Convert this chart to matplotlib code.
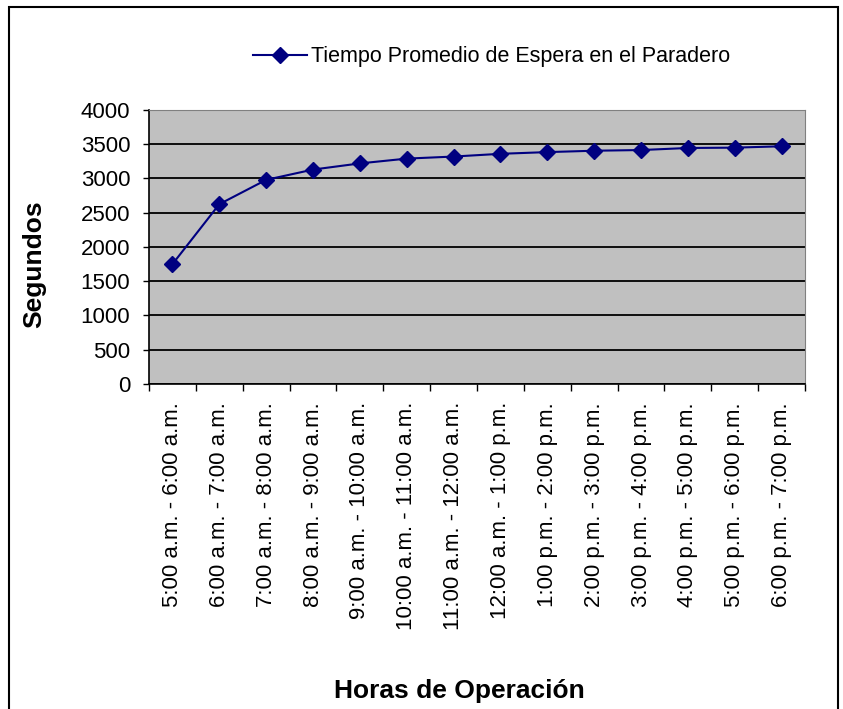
import matplotlib.pyplot as plt
from matplotlib.patches import Rectangle
import numpy as np

plt.rcParams['font.family'] = ['Liberation Sans', 'DejaVu Sans']

horas = ['5:00 a.m. - 6:00 a.m.', '6:00 a.m. - 7:00 a.m.', '7:00 a.m. - 8:00 a.m.',
         '8:00 a.m. - 9:00 a.m.', '9:00 a.m. - 10:00 a.m.', '10:00 a.m. - 11:00 a.m.',
         '11:00 a.m. - 12:00 a.m.', '12:00 a.m. - 1:00 p.m.', '1:00 p.m. - 2:00 p.m.',
         '2:00 p.m. - 3:00 p.m.', '3:00 p.m. - 4:00 p.m.', '4:00 p.m. - 5:00 p.m.',
         '5:00 p.m. - 6:00 p.m.', '6:00 p.m. - 7:00 p.m.']
tiempo = [1750, 2625, 2980, 3130, 3220, 3290, 3320, 3360, 3385, 3405, 3415, 3445, 3450, 3470]
y_ticks = [0, 500, 1000, 1500, 2000, 2500, 3000, 3500, 4000]

fig = plt.figure(figsize=(8.43, 7.09), dpi=100)
ax = fig.add_axes([0.1768, 0.4584, 0.7782, 0.3865])

x = np.arange(len(horas))
ax.set_facecolor('#C0C0C0')
ax.plot(x, tiempo, color='#000080', lw=1.5, marker='D', markersize=8.5,
        label='Tiempo Promedio de Espera en el Paradero', zorder=3)

ax.set_xlim(-0.5, len(horas) - 0.5)
ax.set_ylim(0, 4000)
ax.set_yticks(y_ticks)
ax.set_yticklabels([str(v) for v in y_ticks], fontsize=16)
ax.yaxis.grid(True, color='black', lw=1.3)
ax.set_axisbelow(True)

ax.set_xticks(x)
ax.set_xticklabels(horas, rotation=90, fontsize=16)
ax.tick_params(axis='x', which='major', length=0, pad=13)
ax.set_xticks(np.arange(len(horas) + 1) - 0.5, minor=True)
ax.tick_params(axis='x', which='minor', length=5, width=1, direction='out')
ax.tick_params(axis='y', length=4.5, width=1, direction='out', pad=9)

for s in ['top', 'right']:
    ax.spines[s].set_color('#808080')
for s in ['left', 'bottom']:
    ax.spines[s].set_linewidth(1.2)

ax.set_ylabel('Segundos', fontsize=19, fontweight='bold')
ax.yaxis.set_label_coords(-0.157, 0.438)
ax.set_xlabel('Horas de Operación', fontsize=19, fontweight='bold')
ax.xaxis.set_label_coords(0.473, -1.077)

fig.legend(loc='center', bbox_to_anchor=(0.583, 0.92), frameon=False, fontsize=15.5,
           handlelength=2.5, handletextpad=0.2)

fig.patches.append(Rectangle((9 / 843, -0.1), (838 - 9) / 843, 1.1 - 7 / 709,
                             transform=fig.transFigure, fill=False,
                             edgecolor='black', lw=1.5))

fig.savefig('out.png', dpi=100)
